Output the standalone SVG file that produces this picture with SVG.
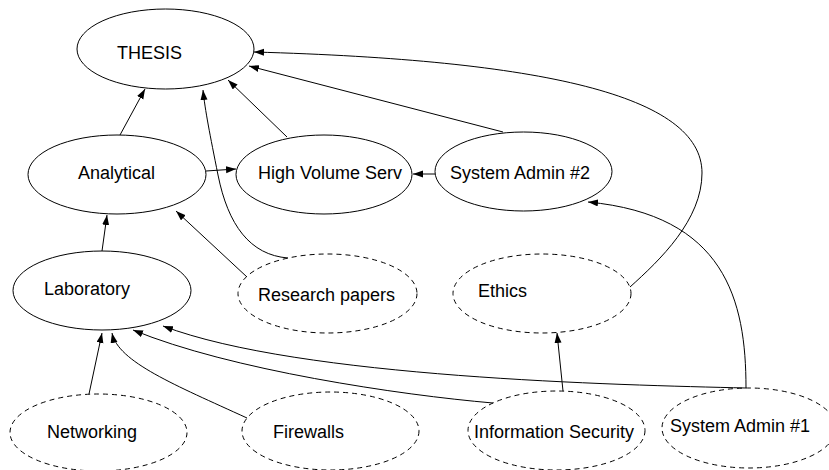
<svg xmlns="http://www.w3.org/2000/svg" width="829" height="470" viewBox="0 0 829 470">
<style>
.n{fill:#fff;stroke:#000;stroke-width:1}
.d{stroke-dasharray:5,4}
.t{font-family:"Liberation Sans",Arial,sans-serif;font-size:18px;fill:#000}
.e{fill:none;stroke:#000;stroke-width:1;marker-end:url(#ah)}
</style>
<defs>
<marker id="ah" markerUnits="userSpaceOnUse" markerWidth="10" markerHeight="8" refX="10" refY="3.5" orient="auto">
<path d="M0,0 L10,3.5 L0,7 z" fill="#000"/>
</marker>
</defs>
<rect width="829" height="470" fill="#fff"/>
<g id="nodes">
<g id="thesis"><ellipse class="n" cx="165.5" cy="49" rx="88.5" ry="40"/><text class="t" x="117" y="59.3">THESIS</text></g>
<g id="analytical"><ellipse class="n" cx="117" cy="174.5" rx="89" ry="39.5"/><text class="t" x="78" y="179">Analytical</text></g>
<g id="hvs"><ellipse class="n" cx="324" cy="174.5" rx="88" ry="39.5"/><text class="t" x="258" y="179">High Volume Serv</text></g>
<g id="sa2"><ellipse class="n" cx="523.5" cy="171.5" rx="88.5" ry="39.5"/><text class="t" x="450" y="179">System Admin #2</text></g>
<g id="laboratory"><ellipse class="n" cx="102" cy="290.5" rx="89" ry="39.5"/><text class="t" x="44" y="295">Laboratory</text></g>
<g id="research"><ellipse class="n d" cx="327.5" cy="293.5" rx="89.5" ry="39.5"/><text class="t" x="258" y="300.7">Research papers</text></g>
<g id="ethics"><ellipse class="n d" cx="542" cy="293.5" rx="89" ry="39.5"/><text class="t" x="478" y="297">Ethics</text></g>
<g id="networking"><ellipse class="n d" cx="98.5" cy="432.5" rx="88.5" ry="38.5"/><text class="t" x="47" y="437.7">Networking</text></g>
<g id="firewalls"><ellipse class="n d" cx="330.5" cy="431" rx="88.5" ry="39"/><text class="t" x="273" y="437.7">Firewalls</text></g>
<g id="infosec"><ellipse class="n d" cx="556.5" cy="430.5" rx="88.5" ry="39.5"/><text class="t" x="474" y="438">Information Security</text></g>
<g id="sa1"><ellipse class="n d" cx="749" cy="428" rx="87" ry="40"/><text class="t" x="670" y="432">System Admin #1</text></g>
</g>
<g id="connectors">
<path class="e" d="M120,135 L145,89"/>
<path class="e" d="M288,258 C250,255 228,225 218,175 C210,135 205,110 203,90"/>
<path class="e" d="M247,277 L176,211"/>
<path class="e" d="M287,137 L228,80"/>
<path class="e" d="M206,171 L236,169"/>
<path class="e" d="M435,174 L413,174"/>
<path class="e" d="M503,132 L249,66"/>
<path class="e" d="M630,287 C660,260 702,220 702,173 C702,95 540,60 254,52"/>
<path class="e" d="M746,388 C746,300 725,215 588,202"/>
<path class="e" d="M746,388 C620,385 300,378 163,326"/>
<path class="e" d="M493,403 C400,395 230,370 133,330"/>
<path class="e" d="M563,391 L557,333"/>
<path class="e" d="M247,418 C175,385 118,362 112,333"/>
<path class="e" d="M89,394 L102,333"/>
<path class="e" d="M102,251 L107,215"/>
</g>
</svg>
